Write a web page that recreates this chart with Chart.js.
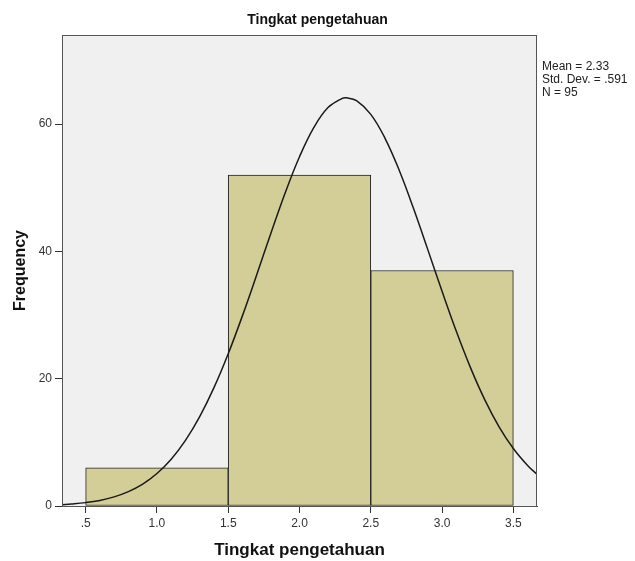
<!DOCTYPE html>
<html lang="en">
<head>
  <meta charset="utf-8" />
  <title>Tingkat pengetahuan</title>
  <script src="https://cdn.jsdelivr.net/npm/chart.js"></script>
  <style>
    html, body { margin: 0; background: #fff; }
    #wrap { width: 635px; height: 561px; }
  </style>
</head>
<body>
  <div id="wrap"><canvas id="hist"></canvas></div>
  <script>
    // histogram bins (width 1, centred on 1, 2, 3)
    const binCenters = [1.0, 2.0, 3.0];
    const frequencies = [6, 52, 37];

    // normal curve
    const curveX = [0.334, 0.4, 0.5, 0.6, 0.7, 0.8, 0.9, 1.0, 1.1, 1.2, 1.3, 1.4, 1.5, 1.6, 1.7, 1.8, 1.9, 2.0,
      2.1, 2.2, 2.3, 2.33, 2.4, 2.5, 2.6, 2.7, 2.8, 2.9, 3.0, 3.1, 3.2, 3.3, 3.4, 3.5, 3.6, 3.666];
    const curveY = [0.21, 0.31, 0.53, 0.88, 1.43, 2.25, 3.43, 5.1, 7.35, 10.31, 14.04, 18.59, 23.92, 29.91, 36.33, 42.9, 49.22, 54.87,
      59.45, 62.6, 64.05, 64.13, 63.68, 61.53, 57.77, 52.72, 46.74, 40.28, 33.73, 27.44, 21.7, 16.68, 12.45, 9.04, 6.37, 4.98];

    const xTicks = [0.5, 1.0, 1.5, 2.0, 2.5, 3.0, 3.5];
    const xTickLabels = ['.5', '1.0', '1.5', '2.0', '2.5', '3.0', '3.5'];
    const yTicks = [0, 20, 40, 60];
    const xMin = 0.334, xMax = 3.666;
    const yMax = 74;

    const statLines = ['Mean = 2.33', 'Std. Dev. = .591', 'N = 95'];

    Chart.defaults.font.family = "'Liberation Sans', Arial, sans-serif";

    // grey plot background, frame and the stats text on the right
    const frame = {
      id: 'frame',
      beforeDraw(chart) {
        const { ctx, chartArea: a } = chart;
        ctx.save();
        ctx.fillStyle = '#f0f0f0';
        ctx.fillRect(a.left, a.top, a.right - a.left, a.bottom - a.top);
        ctx.restore();
      },
      afterDraw(chart) {
        const { ctx, chartArea: a } = chart;
        ctx.save();
        ctx.strokeStyle = '#555';
        ctx.lineWidth = 1;
        ctx.strokeRect(a.left + 0.5, a.top + 0.5, a.right - a.left - 1, a.bottom - a.top);
        ctx.fillStyle = '#222';
        ctx.font = "12px 'Liberation Sans', Arial, sans-serif";
        ctx.textBaseline = 'middle';
        statLines.forEach((s, i) => ctx.fillText(s, a.right + 5, 67 + i * 13));
        ctx.restore();
      }
    };

    const hidden = {
      grid: { display: false },
      border: { display: false },
      ticks: { display: false }
    };

    new Chart(document.getElementById('hist'), {
      data: {
        datasets: [
          {
            type: 'line',
            data: curveX.map((x, i) => ({ x, y: curveY[i] })),
            borderColor: '#1a1a1a',
            borderWidth: 1.5,
            pointRadius: 0,
            tension: 0.4,
            fill: false,
            order: 0
          },
          {
            type: 'bar',
            data: binCenters.map((x, i) => ({ x, y: frequencies[i] })),
            backgroundColor: '#d3ce97',
            borderColor: '#222',
            borderWidth: 1,
            borderSkipped: false,
            barPercentage: 1,
            categoryPercentage: 1,
            order: 1
          }
        ]
      },
      options: {
        responsive: true,
        maintainAspectRatio: false,
        animation: false,
        layout: { padding: 0 },
        plugins: {
          legend: { display: false },
          tooltip: { enabled: false },
          title: {
            display: true,
            text: 'Tingkat pengetahuan',
            color: '#111',
            font: { size: 14, weight: 'bold' },
            padding: { top: 11.6, bottom: 6.6 }
          }
        },
        scales: {
          // data axis: ticks only at bin centres so the bars get a full bin width
          x: {
            type: 'linear',
            position: 'bottom',
            offset: false,
            min: xMin, max: xMax,
            ...hidden,
            afterBuildTicks: s => { s.ticks = binCenters.map(v => ({ value: v })); },
            afterFit: s => { s.height = 0; }
          },
          xt: {
            type: 'linear',
            position: 'bottom',
            offset: false,
            min: xMin, max: xMax,
            afterBuildTicks: s => { s.ticks = xTicks.map(v => ({ value: v })); },
            afterFit: s => { s.height = 55; },
            grid: { drawOnChartArea: false, drawTicks: true, tickLength: 7, color: '#333' },
            border: { display: true, color: '#444' },
            ticks: {
              color: '#333', font: { size: 12 }, padding: 3, maxRotation: 0,
              callback: (v, i) => xTickLabels[i]
            },
            title: {
              display: true,
              text: 'Tingkat pengetahuan',
              color: '#111',
              font: { size: 17, weight: 'bold' },
              padding: 0
            }
          },
          y: {
            min: 0, max: yMax,
            afterBuildTicks: s => { s.ticks = yTicks.map(v => ({ value: v })); },
            afterFit: s => { s.width = 62; },
            grid: { drawOnChartArea: false, drawTicks: true, tickLength: 7, color: '#333' },
            border: { display: true, color: '#444' },
            ticks: { color: '#333', font: { size: 12 }, padding: 3 },
            title: {
              display: true,
              text: 'Frequency',
              color: '#111',
              font: { size: 16, weight: 'bold' },
              padding: { top: 11, bottom: 0 }
            }
          },
          spacer: {
            position: 'right',
            ...hidden,
            afterFit: s => { s.width = 98; }
          }
        }
      },
      plugins: [frame]
    });
  </script>
</body>
</html>
